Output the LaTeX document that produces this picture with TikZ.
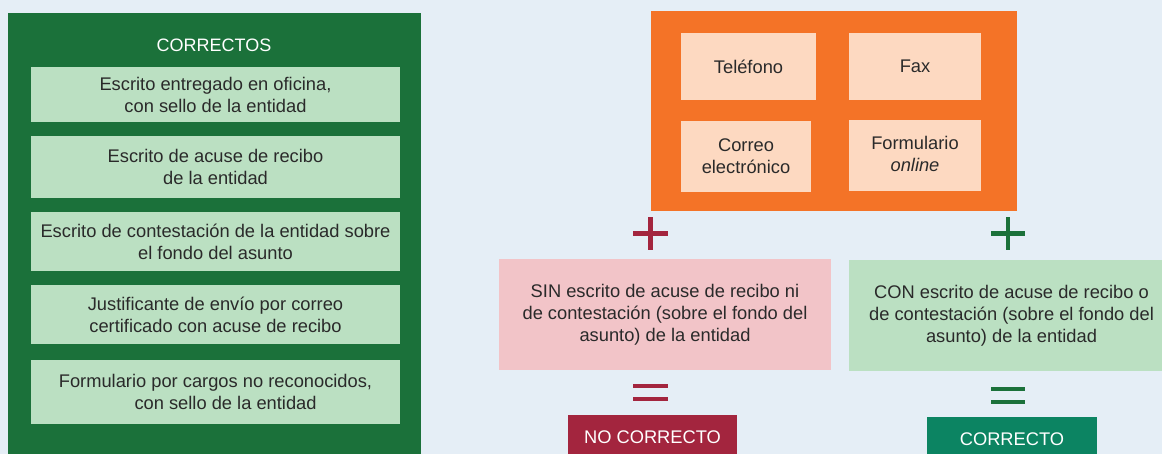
\documentclass[tikz,border=0pt]{standalone}
\usepackage{fontspec}
\setmainfont{Liberation Sans}
\definecolor{bg}{HTML}{E5EEF6}
\definecolor{dgreen}{HTML}{1B713A}
\definecolor{lgreen}{HTML}{BBE0C2}
\definecolor{orange}{HTML}{F47327}
\definecolor{peach}{HTML}{FDD9C1}
\definecolor{dred}{HTML}{A3253E}
\definecolor{pink}{HTML}{F2C4C8}
\definecolor{teal}{HTML}{0C8462}
\definecolor{txt}{HTML}{2A2A2A}
\begin{document}
\begin{tikzpicture}[x=1pt,y=-1pt,
  rbox/.style={rectangle,inner sep=0pt,outer sep=0pt,draw=none,align=center,text=txt,font=\fontsize{18.3}{22}\selectfont},
  lbox/.style={rbox,fill=lgreen,minimum width=369pt},
  pbox/.style={rbox,fill=peach},
  resbox/.style={rbox,text=white,font=\fontsize{18.3}{20}\selectfont},
  sym/.style={line width=4.3pt}
]
\useasboundingbox (0,0) rectangle (1162,454);
\fill[bg] (0,0) rectangle (1162,454);
% left panel
\node[rbox,fill=dgreen,minimum width=413pt,minimum height=441pt] (panel) at (214.5,233.5) {};
\node[rbox,text=white,font=\fontsize{18}{20}\selectfont] (title) at (214,45) {CORRECTOS};
\node[lbox,minimum height=55pt] (b1) at (215.5,94.5) {Escrito entregado en oficina,\\con sello de la entidad};
\node[lbox,minimum height=62pt] (b2) at (215.5,167) {Escrito de acuse de recibo\\de la entidad};
\node[lbox,minimum height=59pt] (b3) at (215.5,241.5) {Escrito de contestación de la entidad sobre\\el fondo del asunto};
\node[lbox,minimum height=59pt] (b4) at (215.5,314.5) {Justificante de envío por correo\\certificado con acuse de recibo};
\node[lbox,minimum height=64pt] (b5) at (215.5,392) {Formulario por cargos no reconocidos,\\\hspace*{1.1em}con sello de la entidad};
% orange block
\node[rbox,fill=orange,minimum width=366pt,minimum height=200pt] (ob) at (834,111) {};
\node[pbox,minimum width=135pt,minimum height=67pt] (tel) at (748.5,66.5) {Teléfono};
\node[pbox,minimum width=132pt,minimum height=67pt] (fax) at (915,66.5) {Fax};
\node[pbox,minimum width=130pt,minimum height=71pt] (mail) at (746,156.5) {\rule{0pt}{6pt}Correo\\electrónico};
\node[pbox,minimum width=132pt,minimum height=71pt] (form) at (915,155.5) {\rule{0pt}{6pt}Formulario\\\textit{online}\vphantom{g}};
% plus signs
\coordinate (rp) at (650.5,233.5);
\coordinate (gp) at (1008,233.5);
\draw[sym,dred] ([yshift=-16.5pt]rp) -- ([yshift=16.5pt]rp) ([xshift=-17.5pt]rp) -- ([xshift=17.5pt]rp);
\draw[sym,dgreen] ([yshift=-16.5pt]gp) -- ([yshift=16.5pt]gp) ([xshift=-17pt]gp) -- ([xshift=17pt]gp);
% condition boxes
\node[rbox,fill=pink,minimum width=332pt,minimum height=110pt] (sin) at (665,314.5) {SIN escrito de acuse de recibo ni\\de contestación (sobre el fondo del\\asunto) de la entidad};
\node[rbox,fill=lgreen,minimum width=325pt,minimum height=111pt] (con) at (1011.5,315.5) {CON escrito de acuse de recibo o\\de contestación (sobre el fondo del\\asunto) de la entidad};
% equals signs
\coordinate (re) at (650.5,392.5);
\coordinate (ge) at (1008,395.5);
\draw[sym,dred] ([shift={(-17.5pt,-6.3pt)}]re) -- ([shift={(17.5pt,-6.3pt)}]re)
                ([shift={(-17.5pt,6.3pt)}]re) -- ([shift={(17.5pt,6.3pt)}]re);
\draw[sym,dgreen] ([shift={(-17pt,-6.5pt)}]ge) -- ([shift={(17pt,-6.5pt)}]ge)
                  ([shift={(-17pt,6.5pt)}]ge) -- ([shift={(17pt,6.5pt)}]ge);
% results
\node[resbox,fill=dred,minimum width=169pt,minimum height=44pt] (noc) at (652.5,437) {NO CORRECTO};
\node[resbox,fill=teal,minimum width=170pt,minimum height=44pt] (cor) at (1012,439) {CORRECTO};
\end{tikzpicture}
\end{document}
